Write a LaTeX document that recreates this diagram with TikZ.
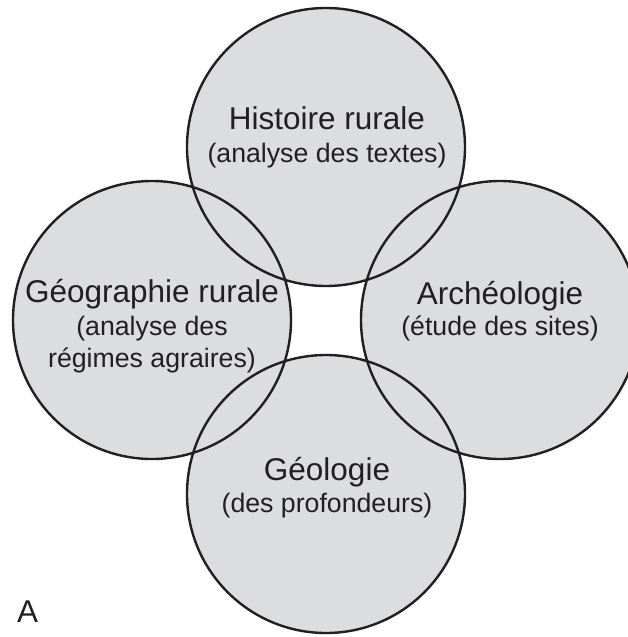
\documentclass[tikz,border=0pt]{standalone}
\usepackage{fontspec}
\setmainfont{Liberation Sans}
\definecolor{fillgray}{RGB}{220,221,223}
\definecolor{ink}{RGB}{35,31,32}
\begin{document}
\begin{tikzpicture}[x=1pt,y=-1pt,
  disc/.style={circle, minimum size=278pt, inner sep=0pt, outer sep=0pt},
  discfill/.style={disc, fill=fillgray},
  discline/.style={disc, draw=ink, line width=2.4pt},
  ttl/.style={anchor=base, inner sep=0pt, text=ink, font=\fontsize{31.5}{36}\selectfont},
  sub/.style={anchor=base, inner sep=0pt, text=ink, font=\fontsize{26.7}{32}\selectfont}]
\useasboundingbox (0,0) rectangle (628,637);
% fills
\node[discfill] (fTop) at (326,147) {};
\node[discfill] (fLeft) at (152,320) {};
\node[discfill] (fRight) at (500,320) {};
\node[discfill] (fBottom) at (326,494) {};
% outlines
\node[discline] (oTop) at (fTop) {};
\node[discline] (oLeft) at (fLeft) {};
\node[discline] (oRight) at (fRight) {};
\node[discline] (oBottom) at (fBottom) {};
% texts
\node[ttl] (tTop) at (327,129) {Histoire rurale};
\node[sub] (sTop) at (327,162) {(analyse des textes)};
\node[ttl] (tLeft) at (152,302) {Géographie rurale};
\node[sub] (sLeft1) at (152,335) {(analyse des};
\node[sub] (sLeft2) at (152,367) {régimes agraires)};
\node[ttl] (tRight) at (500,304) {Archéologie};
\node[sub] (sRight) at (500,335) {(étude des sites)};
\node[ttl] (tBottom) at (327,480) {Géologie};
\node[sub] (sBottom) at (327,512) {(des profondeurs)};
\node[ttl, anchor=base west] (lblA) at (17,622) {A};
\end{tikzpicture}
\end{document}
